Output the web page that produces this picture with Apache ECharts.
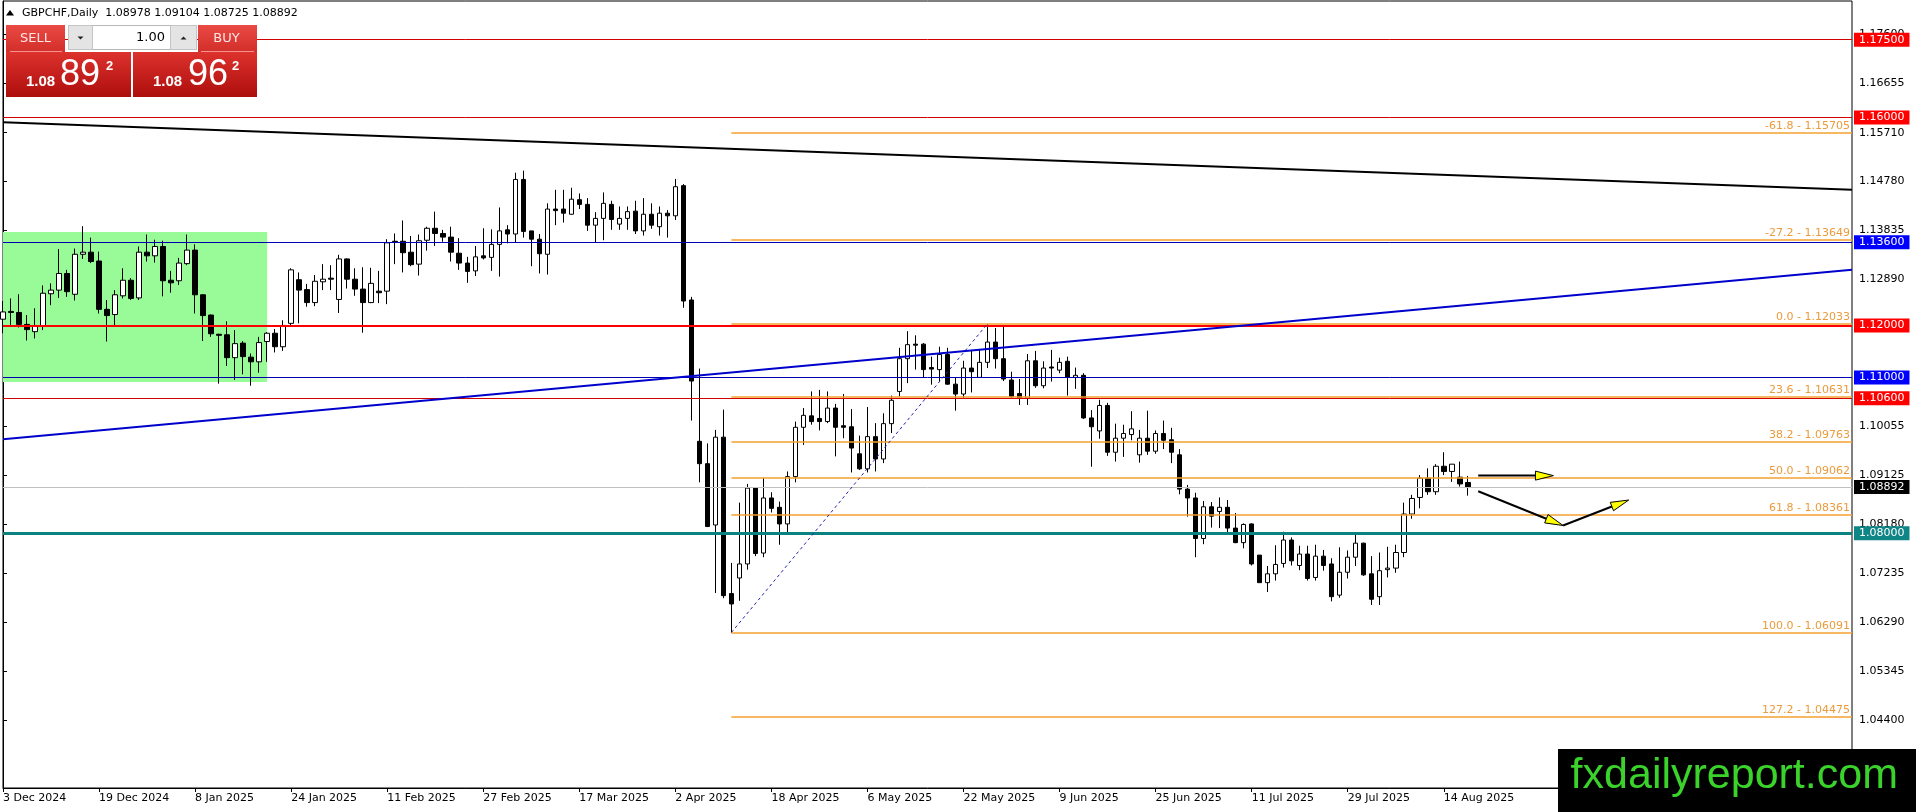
<!DOCTYPE html>
<html>
<head>
<meta charset="utf-8">
<title>GBPCHF Daily</title>
<script src="https://cdn.jsdelivr.net/npm/echarts@6/dist/echarts.min.js"></script>
<style>
html, body { margin: 0; padding: 0; background: #fff; }
#chart { width: 1916px; height: 812px; }
</style>
</head>
<body>
<div id="chart"></div>
<script>
// GBPCHF daily bars, 3 Dec 2024 .. 19 Aug 2025
var opens = [
  1.1212,1.1227,1.1225,1.1202,1.1188,1.1199,1.1261,1.1268,1.1300,1.1260,
  1.1337,1.1341,1.1324,1.1231,1.1221,1.1257,1.1287,1.1253,1.1341,1.1334,
  1.1352,1.1287,1.1286,1.1319,1.1345,1.1259,1.1220,1.1183,1.1182,1.1138,
  1.1166,1.1139,1.1130,1.1169,1.1185,1.1159,1.1204,1.1288,1.1269,1.1244,
  1.1284,1.1291,1.1250,1.1328,1.1289,1.1270,1.1244,1.1266,1.1266,1.1362,
  1.1362,1.1341,1.1318,1.1364,1.1387,1.1377,1.1370,1.1339,1.1320,1.1305,
  1.1334,1.1331,1.1356,1.1384,1.1376,1.1481,1.1382,1.1366,1.1337,1.1424,
  1.1424,1.1414,1.1442,1.1433,1.1393,1.1406,1.1433,1.1395,1.1406,1.1420,
  1.1382,1.1414,1.1390,1.1416,1.1411,1.1469,1.1249,1.0977,1.0934,1.0816,
  1.0985,1.0684,1.0714,1.0741,1.0887,1.0762,1.0868,1.0850,1.0818,1.0909,
  1.1004,1.1026,1.1021,1.1015,1.1041,1.1007,1.1005,1.0953,1.0924,1.0986,
  1.0943,1.1011,1.1073,1.1136,1.1164,1.1164,1.1119,1.1115,1.1144,1.1087,
  1.1068,1.1118,1.1100,1.1129,1.1168,1.1136,1.1095,1.1069,1.1060,1.1132,
  1.1084,1.1120,1.1114,1.1131,1.1100,1.1104,1.1022,1.0997,1.1046,1.0956,
  1.0983,1.0990,1.0951,1.0983,1.0958,1.0992,1.0980,1.0951,1.0885,1.0868,
  1.0790,1.0851,1.0842,1.0850,1.0810,1.0782,1.0818,1.0758,1.0705,1.0722,
  1.0742,1.0787,1.0738,1.0760,1.0715,1.0756,1.0741,1.0681,1.0725,1.0754,
  1.0781,1.0722,1.0678,1.0730,1.0733,1.0763,1.0837,1.0869,1.0906,1.0880,
  1.0929,1.0919,1.0908,1.08978
];
var highs = [
  1.1247,1.1252,1.1260,1.1220,1.1233,1.1277,1.1281,1.1347,1.1307,1.1348,
  1.1391,1.1369,1.1342,1.1249,1.1268,1.1310,1.1291,1.1352,1.1375,1.1365,
  1.1363,1.1305,1.1330,1.1375,1.1356,1.1260,1.1221,1.1184,1.1208,1.1191,
  1.1170,1.1146,1.1178,1.1187,1.1193,1.1210,1.1310,1.1302,1.1280,1.1297,
  1.1318,1.1316,1.1336,1.1329,1.1310,1.1312,1.1311,1.1305,1.1366,1.1377,
  1.1402,1.1372,1.1375,1.1390,1.1419,1.1384,1.1390,1.1368,1.1332,1.1353,
  1.1387,1.1385,1.1427,1.1393,1.1494,1.1498,1.1382,1.1376,1.1435,1.1461,
  1.1461,1.1465,1.1454,1.1445,1.1418,1.1456,1.1440,1.1429,1.1429,1.1440,
  1.1445,1.1435,1.1429,1.1422,1.1482,1.1472,1.1255,1.1117,1.0973,1.0999,
  1.1038,1.0743,1.0859,1.0895,1.0888,1.0907,1.0879,1.0861,1.0919,1.1015,
  1.1041,1.1073,1.1076,1.1073,1.1049,1.1068,1.1039,1.0988,1.1043,1.1012,
  1.1031,1.1065,1.1157,1.1189,1.1181,1.1166,1.1140,1.1159,1.1157,1.1100,
  1.1132,1.1153,1.1153,1.12033,1.1195,1.1200,1.1111,1.1097,1.1145,1.1151,
  1.1131,1.1153,1.1138,1.1140,1.1119,1.1108,1.1037,1.1057,1.1051,1.1011,
  1.1009,1.1035,1.0999,1.1036,1.0998,1.1017,1.1003,1.0962,1.0893,1.0878,
  1.0862,1.0860,1.0869,1.0864,1.0839,1.0819,1.0819,1.0758,1.0737,1.0777,
  1.0803,1.0792,1.0776,1.0776,1.0778,1.0768,1.0752,1.0773,1.0767,1.0798,
  1.0782,1.0756,1.0763,1.0774,1.0778,1.0859,1.0874,1.0912,1.0925,1.0933,
  1.0956,1.0933,1.0938,1.09104
];
var lows = [
  1.1185,1.1201,1.1196,1.1171,1.1175,1.1191,1.1239,1.1253,1.1255,1.1248,
  1.1328,1.1320,1.1223,1.1169,1.1198,1.1252,1.1249,1.1249,1.1323,1.1321,
  1.1256,1.1263,1.1278,1.1316,1.1223,1.1170,1.1178,1.1088,1.1122,1.1095,
  1.1106,1.1084,1.1109,1.1130,1.1148,1.1151,1.1199,1.1204,1.1236,1.1237,
  1.1268,1.1268,1.1224,1.1271,1.1257,1.1186,1.1243,1.1243,1.1241,1.1318,
  1.1302,1.1314,1.1296,1.1344,1.1353,1.1361,1.1323,1.1307,1.1282,1.1295,
  1.1327,1.1305,1.1294,1.1358,1.1359,1.1369,1.1314,1.1300,1.1298,1.1393,
  1.1398,1.1413,1.1424,1.1382,1.1360,1.1364,1.1384,1.1384,1.1384,1.1376,
  1.1373,1.1386,1.1373,1.1369,1.1403,1.1234,1.1017,1.0898,1.0812,1.0685,
  1.0675,1.06091,1.0670,1.0730,1.0756,1.0754,1.0840,1.0778,1.0797,1.0898,
  1.0970,1.1009,1.0998,1.1012,1.0948,1.0983,1.0917,1.0922,1.0917,1.0919,
  1.0935,1.0993,1.1063,1.1089,1.1115,1.1099,1.1086,1.1092,1.1086,1.1036,
  1.1060,1.1071,1.1099,1.1118,1.1117,1.1093,1.1059,1.1047,1.1047,1.1080,
  1.1079,1.1092,1.1108,1.1065,1.1078,1.1020,1.0928,1.0982,1.0949,1.0938,
  1.0947,1.0979,1.0936,1.0951,1.0953,1.0962,1.0935,1.0875,1.0832,1.0754,
  1.0779,1.0811,1.0810,1.0800,1.0781,1.0771,1.0738,1.0705,1.0687,1.0709,
  1.0734,1.0738,1.0729,1.0709,1.0709,1.0728,1.0669,1.0676,1.0713,1.0737,
  1.0718,1.0662,1.0662,1.0715,1.0724,1.0754,1.0828,1.0848,1.0874,1.0874,
  1.0912,1.0899,1.0890,1.08725
];
var closes = [
  1.1226,1.1225,1.1202,1.1192,1.1198,1.1262,1.1268,1.1300,1.1265,1.1337,
  1.1341,1.1323,1.1231,1.1219,1.1259,1.1287,1.1252,1.1341,1.1334,1.1352,
  1.1286,1.1282,1.1320,1.1345,1.1259,1.1219,1.1184,1.1181,1.1138,1.1165,
  1.1140,1.1130,1.1167,1.1185,1.1159,1.1200,1.1307,1.1268,1.1244,1.1285,
  1.1289,1.1289,1.1328,1.1289,1.1270,1.1244,1.1281,1.1263,1.1359,1.1361,
  1.1340,1.1317,1.1363,1.1387,1.1377,1.1370,1.1341,1.1320,1.1304,1.1332,
  1.1330,1.1356,1.1382,1.1376,1.1481,1.1381,1.1366,1.1338,1.1424,1.1421,
  1.1416,1.1443,1.1433,1.1393,1.1406,1.1435,1.1404,1.1406,1.1419,1.1382,
  1.1414,1.1393,1.1416,1.1411,1.1467,1.1247,1.1093,1.0934,1.0813,1.0985,
  1.0680,1.0664,1.0741,1.0887,1.0761,1.0868,1.0848,1.0818,1.0909,1.1004,
  1.1027,1.1015,1.1015,1.1041,1.1004,1.1004,1.0964,1.0924,1.0986,1.0943,
  1.1011,1.1056,1.1136,1.1163,1.1162,1.1115,1.1116,1.1144,1.1087,1.1068,
  1.1118,1.1111,1.1129,1.1168,1.1136,1.1097,1.1063,1.1060,1.1132,1.1084,
  1.1118,1.1118,1.1129,1.1100,1.1104,1.1022,1.1005,1.1046,1.0956,1.0983,
  1.0992,1.1001,1.0983,1.0958,1.0992,1.0979,1.0956,1.0885,1.0868,1.0790,
  1.0851,1.0833,1.0850,1.0810,1.0782,1.0817,1.0741,1.0705,1.0722,1.0740,
  1.0787,1.0747,1.0760,1.0713,1.0756,1.0738,1.0678,1.0725,1.0754,1.0781,
  1.0720,1.0673,1.0728,1.0733,1.0763,1.0837,1.0867,1.0906,1.0880,1.0929,
  1.0919,1.0933,1.0895,1.08892
];
var askPrice = 1.08962;

// right price scale tick values (MT4 steps)
var priceTicks = [1.17600,1.16655,1.15710,1.14780,1.13835,1.12890,1.11945,1.11000,
                  1.10055,1.09125,1.08180,1.07235,1.06290,1.05345,1.04400];

// horizontal levels drawn on the chart
var levelPrices = [1.17500, 1.16000, 1.13600, 1.12000, 1.11000, 1.10600, 1.08000];
var levelLine   = ['#d00000','#d00000','#0000b0','#ff0000','#0000b0','#d00000','#0b8181'];
var levelBox    = ['#ff0000','#ff0000','#0000ff','#ff0000','#0000ff','#ff0000','#0f8585'];
var levelWidth  = [1, 1, 1, 2, 1, 1, 3];

// fibonacci from the April low (bar 91) to the May high (bar 123)
var fibRatios = [-61.8, -27.2, 0.0, 23.6, 38.2, 50.0, 61.8, 100.0, 127.2];
var fibPrices = [1.15705, 1.13649, 1.12033, 1.10631, 1.09763, 1.09062, 1.08361, 1.06091, 1.04475];
var fibFrom = [91, 1.06091], fibTo = [123, 1.12033];

// trend lines [bar, price] -> [bar, price]
var blackTrend = [[0, 1.1591], [231, 1.1461]];
var blueTrend = [[0, 1.0981], [231, 1.1307]];
// green range box
var rangeBox = [[0, 1.1380], [33, 1.1091]];
// forecast arrows [bar1, price1, bar2, price2]
var arrows = [
  [184.3, 1.0911, 193.7, 1.0911],
  [184.3, 1.0881, 194.9, 1.0815],
  [194.9, 1.0815, 203.1, 1.0864]
];

var months = ['Jan','Feb','Mar','Apr','May','Jun','Jul','Aug','Sep','Oct','Nov','Dec'];
var holidays = ['2024-12-25', '2025-01-01'];
var slotCount = 232;
var dates = [];
var d = new Date(Date.UTC(2024, 11, 3));
while (dates.length < slotCount) {
  var wd = d.getUTCDay();
  if (wd !== 0 && wd !== 6 && holidays.indexOf(d.toISOString().slice(0, 10)) < 0) {
    dates.push(d.getUTCDate() + ' ' + months[d.getUTCMonth()] + ' ' + d.getUTCFullYear());
  }
  d.setUTCDate(d.getUTCDate() + 1);
}
var lastBar = closes.length - 1;

var candles = [];
for (var i = 0; i < closes.length; i++) {
  candles.push([opens[i], closes[i], lows[i], highs[i]]);
}

var FONT = '"DejaVu Sans", sans-serif';

var levelLines = [];
for (var k = 0; k < levelPrices.length; k++) {
  levelLines.push({
    yAxis: levelPrices[k],
    lineStyle: { color: levelLine[k], width: levelWidth[k], type: 'solid' },
    label: {
      position: 'end', distance: 2, formatter: levelPrices[k].toFixed(5),
      color: '#fff', backgroundColor: levelBox[k], padding: [2, 5, 1, 5],
      fontSize: 11, fontFamily: FONT
    }
  });
}
// bid line
levelLines.push({
  yAxis: closes[lastBar],
  lineStyle: { color: '#c0c0c0', width: 1, type: 'solid' },
  label: {
    position: 'end', distance: 2, formatter: closes[lastBar].toFixed(5),
    color: '#fff', backgroundColor: '#000', padding: [2, 5, 1, 5],
    fontSize: 11, fontFamily: FONT
  }
});
for (var f = 0; f < fibRatios.length; f++) {
  levelLines.push([
    {
      coord: [fibFrom[0], fibPrices[f]],
      lineStyle: { color: '#f5a030', width: 1.5, type: 'solid' },
      label: {
        position: 'insideEndTop', distance: [2, 1],
        formatter: fibRatios[f].toFixed(1) + ' - ' + fibPrices[f].toFixed(5),
        color: '#eb9b3c', fontSize: 11, fontFamily: FONT
      }
    },
    { coord: [slotCount - 1, fibPrices[f]] }
  ]);
}
levelLines.push([
  { coord: fibFrom, lineStyle: { color: '#2222aa', width: 1, type: [3, 3] }, label: { show: false } },
  { coord: fibTo }
]);
levelLines.push([
  { coord: blackTrend[0], lineStyle: { color: '#000', width: 2, type: 'solid' }, label: { show: false } },
  { coord: blackTrend[1] }
]);
levelLines.push([
  { coord: blueTrend[0], lineStyle: { color: '#0000cc', width: 2, type: 'solid' }, label: { show: false } },
  { coord: blueTrend[1] }
]);

var showTimeLabel = function (idx) { return idx % 12 === 0 && idx <= lastBar; };

var redBtn = new echarts.graphic.LinearGradient(0, 0, 0, 1, [
  { offset: 0, color: '#ea4a44' }, { offset: 1, color: '#d22e2a' }]);
var redPrice = new echarts.graphic.LinearGradient(0, 0, 0, 1, [
  { offset: 0, color: '#dd322e' }, { offset: 1, color: '#ad0e0c' }]);

function priceParts(p) {
  var s = p.toFixed(5);
  return [s.slice(0, 4), s.slice(4, 6), s.slice(6)];
}
var bidParts = priceParts(closes[lastBar]);
var askParts = priceParts(askPrice);
var header = 'GBPCHF,Daily  ' + opens[lastBar].toFixed(5) + ' ' + highs[lastBar].toFixed(5) +
  ' ' + lows[lastBar].toFixed(5) + ' ' + closes[lastBar].toFixed(5);

function txt(x, y, text, font, fill, align) {
  return { type: 'text', x: x, y: y, z: 100,
    style: { text: text, font: font, fill: fill, align: align || 'left', verticalAlign: 'middle' } };
}

var myChart = echarts.init(document.getElementById('chart'));
var option = {
  animation: false,
  backgroundColor: '#fff',
  grid: {
    left: 3, top: 1, right: 64, bottom: 24,
    show: true, borderColor: '#000', borderWidth: 1, backgroundColor: '#fff'
  },
  xAxis: [
    {
      type: 'category',
      data: dates,
      boundaryGap: false,
      axisLine: { lineStyle: { color: '#000', width: 1 } },
      axisTick: { interval: showTimeLabel, length: 4, lineStyle: { color: '#000' } },
      axisLabel: {
        interval: showTimeLabel, align: 'left', margin: 5,
        color: '#000', fontSize: 11, fontFamily: FONT
      },
      splitLine: { show: false }
    },
    { type: 'value', min: 0, max: slotCount - 1, show: false }
  ],
  yAxis: {
    type: 'value',
    position: 'right',
    min: 1.03098,
    max: 1.18244,
    splitLine: { show: false },
    axisLine: { show: true, lineStyle: { color: '#000', width: 1 } },
    axisTick: { show: true, customValues: priceTicks, length: 4, lineStyle: { color: '#000' } },
    axisLabel: {
      customValues: priceTicks, margin: 7, color: '#000', fontSize: 11, fontFamily: FONT,
      formatter: function (v) { return v.toFixed(5); }
    }
  },
  series: [
    {
      name: 'range',
      type: 'line',
      xAxisIndex: 1,
      data: [],
      z: 1,
      silent: true,
      markArea: {
        silent: true,
        itemStyle: { color: '#98fb98', opacity: 1 },
        data: [[{ coord: rangeBox[0] }, { coord: rangeBox[1] }]]
      }
    },
    {
      name: 'GBPCHF',
      type: 'candlestick',
      data: candles,
      barWidth: 5,
      z: 3,
      itemStyle: {
        color: '#fff', color0: '#000',
        borderColor: '#000', borderColor0: '#000', borderWidth: 1
      }
    },
    {
      name: 'objects',
      type: 'line',
      xAxisIndex: 1,
      data: [],
      z: 5,
      silent: true,
      markLine: {
        silent: true,
        precision: 6,
        symbol: ['none', 'none'],
        emphasis: { disabled: true },
        data: levelLines
      }
    },
    {
      name: 'arrows',
      type: 'custom',
      xAxisIndex: 1,
      z: 6,
      silent: true,
      data: arrows,
      encode: { x: [0, 2], y: [1, 3] },
      renderItem: function (params, api) {
        var p1 = api.coord([api.value(0), api.value(1)]);
        var p2 = api.coord([api.value(2), api.value(3)]);
        var dx = p2[0] - p1[0], dy = p2[1] - p1[1];
        var len = Math.sqrt(dx * dx + dy * dy);
        var ux = dx / len, uy = dy / len;
        var L = 18, W = 4.5;
        var bx = p2[0] - ux * L, by = p2[1] - uy * L;
        return {
          type: 'group',
          children: [
            { type: 'line', shape: { x1: p1[0], y1: p1[1], x2: bx, y2: by },
              style: { stroke: '#000', lineWidth: 2 } },
            { type: 'polygon',
              shape: { points: [[p2[0], p2[1]], [bx - uy * W, by + ux * W], [bx + uy * W, by - ux * W]] },
              style: { fill: '#ffff00', stroke: '#000', lineWidth: 1 } }
          ]
        };
      }
    }
  ],
  graphic: [
    // header
    { type: 'polygon', z: 100, shape: { points: [[6, 15.5], [14, 15.5], [10, 10]] }, style: { fill: '#000' } },
    txt(22, 13, header, '11px ' + FONT, '#000'),
    // one click trading panel
    { type: 'rect', z: 100, shape: { x: 6, y: 25, width: 59, height: 27 }, style: { fill: redBtn } },
    { type: 'rect', z: 100, shape: { x: 198, y: 25, width: 59, height: 27 }, style: { fill: redBtn } },
    { type: 'rect', z: 100, shape: { x: 68.5, y: 25.5, width: 128, height: 24 }, style: { fill: '#fff', stroke: '#b8b8b8' } },
    { type: 'rect', z: 100, shape: { x: 68.5, y: 25.5, width: 24, height: 24 }, style: { fill: '#e4e4e4', stroke: '#c4c4c4' } },
    { type: 'rect', z: 100, shape: { x: 170.5, y: 25.5, width: 26, height: 24 }, style: { fill: '#e4e4e4', stroke: '#c4c4c4' } },
    { type: 'polygon', z: 101, shape: { points: [[77.5, 36.5], [83.5, 36.5], [80.5, 39.5]] }, style: { fill: '#222' } },
    { type: 'polygon', z: 101, shape: { points: [[180.5, 39.5], [186.5, 39.5], [183.5, 36.5]] }, style: { fill: '#222' } },
    { type: 'line', z: 101, shape: { x1: 10, y1: 51.5, x2: 62, y2: 51.5 }, style: { stroke: '#f3948f' } },
    { type: 'line', z: 101, shape: { x1: 201, y1: 51.5, x2: 254, y2: 51.5 }, style: { stroke: '#f3948f' } },
    { type: 'rect', z: 100, shape: { x: 6, y: 52, width: 125, height: 45 }, style: { fill: redPrice } },
    { type: 'rect', z: 100, shape: { x: 133, y: 52, width: 124, height: 45 }, style: { fill: redPrice } },
    txt(35.5, 39, 'SELL', '13px ' + FONT, '#fde6e6', 'center'),
    txt(226.5, 39, 'BUY', '13px ' + FONT, '#fde6e6', 'center'),
    txt(165, 37.5, '1.00', '13px ' + FONT, '#000', 'right'),
    txt(26, 82, bidParts[0], 'bold 15px "Liberation Sans", sans-serif', '#fff'),
    txt(60, 75, bidParts[1], '36px "Liberation Sans", sans-serif', '#fff'),
    txt(106, 66, bidParts[2], 'bold 13px "Liberation Sans", sans-serif', '#fff'),
    txt(153, 82, askParts[0], 'bold 15px "Liberation Sans", sans-serif', '#fff'),
    txt(188, 75, askParts[1], '36px "Liberation Sans", sans-serif', '#fff'),
    txt(232, 66, askParts[2], 'bold 13px "Liberation Sans", sans-serif', '#fff'),
    // watermark
    { type: 'rect', z: 100, shape: { x: 1558, y: 749, width: 358, height: 63 }, style: { fill: '#000' } },
    txt(1898, 776, 'fxdailyreport.com', '43px "Liberation Sans", sans-serif', '#3ad22b', 'right')
  ]
};
if (option && typeof option === 'object') {
  myChart.setOption(option, true);
}
</script>
</body>
</html>
